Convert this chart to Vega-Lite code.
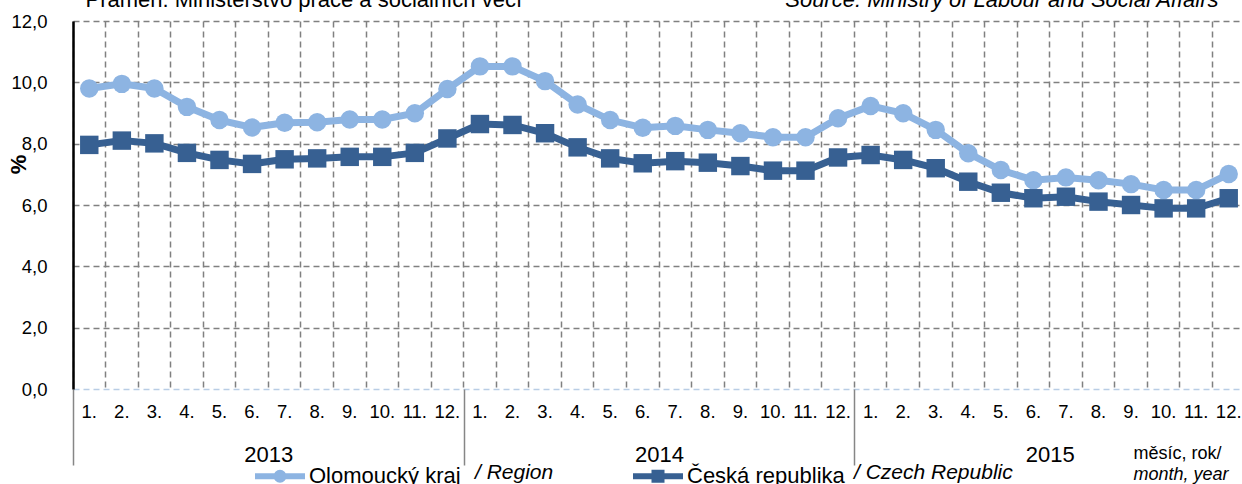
{
  "$schema": "https://vega.github.io/schema/vega-lite/v6.json",
  "width": 1172,
  "height": 368,
  "autosize": {"type": "none"},
  "padding": {"left": 73, "top": 21, "right": 0, "bottom": 95},
  "background": "#ffffff",
  "config": {
    "font": "Liberation Sans",
    "view": {"stroke": null},
    "axis": {"labelColor": "#000000", "titleColor": "#000000"},
    "legend": {"labelColor": "#000000"}
  },
  "datasets": {
    "main": [
      {"period": "2013-01", "series": "Olomoucký kraj", "series_en": "/ Region", "value": 9.8},
      {"period": "2013-02", "series": "Olomoucký kraj", "series_en": "/ Region", "value": 9.95},
      {"period": "2013-03", "series": "Olomoucký kraj", "series_en": "/ Region", "value": 9.8},
      {"period": "2013-04", "series": "Olomoucký kraj", "series_en": "/ Region", "value": 9.2},
      {"period": "2013-05", "series": "Olomoucký kraj", "series_en": "/ Region", "value": 8.77},
      {"period": "2013-06", "series": "Olomoucký kraj", "series_en": "/ Region", "value": 8.53},
      {"period": "2013-07", "series": "Olomoucký kraj", "series_en": "/ Region", "value": 8.68},
      {"period": "2013-08", "series": "Olomoucký kraj", "series_en": "/ Region", "value": 8.7},
      {"period": "2013-09", "series": "Olomoucký kraj", "series_en": "/ Region", "value": 8.79},
      {"period": "2013-10", "series": "Olomoucký kraj", "series_en": "/ Region", "value": 8.79},
      {"period": "2013-11", "series": "Olomoucký kraj", "series_en": "/ Region", "value": 8.99},
      {"period": "2013-12", "series": "Olomoucký kraj", "series_en": "/ Region", "value": 9.78},
      {"period": "2014-01", "series": "Olomoucký kraj", "series_en": "/ Region", "value": 10.52},
      {"period": "2014-02", "series": "Olomoucký kraj", "series_en": "/ Region", "value": 10.52},
      {"period": "2014-03", "series": "Olomoucký kraj", "series_en": "/ Region", "value": 10.04},
      {"period": "2014-04", "series": "Olomoucký kraj", "series_en": "/ Region", "value": 9.28},
      {"period": "2014-05", "series": "Olomoucký kraj", "series_en": "/ Region", "value": 8.77},
      {"period": "2014-06", "series": "Olomoucký kraj", "series_en": "/ Region", "value": 8.52},
      {"period": "2014-07", "series": "Olomoucký kraj", "series_en": "/ Region", "value": 8.58},
      {"period": "2014-08", "series": "Olomoucký kraj", "series_en": "/ Region", "value": 8.45},
      {"period": "2014-09", "series": "Olomoucký kraj", "series_en": "/ Region", "value": 8.34},
      {"period": "2014-10", "series": "Olomoucký kraj", "series_en": "/ Region", "value": 8.21},
      {"period": "2014-11", "series": "Olomoucký kraj", "series_en": "/ Region", "value": 8.21},
      {"period": "2014-12", "series": "Olomoucký kraj", "series_en": "/ Region", "value": 8.83},
      {"period": "2015-01", "series": "Olomoucký kraj", "series_en": "/ Region", "value": 9.23},
      {"period": "2015-02", "series": "Olomoucký kraj", "series_en": "/ Region", "value": 8.99},
      {"period": "2015-03", "series": "Olomoucký kraj", "series_en": "/ Region", "value": 8.45},
      {"period": "2015-04", "series": "Olomoucký kraj", "series_en": "/ Region", "value": 7.69},
      {"period": "2015-05", "series": "Olomoucký kraj", "series_en": "/ Region", "value": 7.14},
      {"period": "2015-06", "series": "Olomoucký kraj", "series_en": "/ Region", "value": 6.81},
      {"period": "2015-07", "series": "Olomoucký kraj", "series_en": "/ Region", "value": 6.9},
      {"period": "2015-08", "series": "Olomoucký kraj", "series_en": "/ Region", "value": 6.81},
      {"period": "2015-09", "series": "Olomoucký kraj", "series_en": "/ Region", "value": 6.68},
      {"period": "2015-10", "series": "Olomoucký kraj", "series_en": "/ Region", "value": 6.49},
      {"period": "2015-11", "series": "Olomoucký kraj", "series_en": "/ Region", "value": 6.49},
      {"period": "2015-12", "series": "Olomoucký kraj", "series_en": "/ Region", "value": 7.01},
      {"period": "2013-01", "series": "Česká republika", "series_en": "/ Czech Republic", "value": 7.96},
      {"period": "2013-02", "series": "Česká republika", "series_en": "/ Czech Republic", "value": 8.1},
      {"period": "2013-03", "series": "Česká republika", "series_en": "/ Czech Republic", "value": 8.01},
      {"period": "2013-04", "series": "Česká republika", "series_en": "/ Czech Republic", "value": 7.7},
      {"period": "2013-05", "series": "Česká republika", "series_en": "/ Czech Republic", "value": 7.47},
      {"period": "2013-06", "series": "Česká republika", "series_en": "/ Czech Republic", "value": 7.34},
      {"period": "2013-07", "series": "Česká republika", "series_en": "/ Czech Republic", "value": 7.49},
      {"period": "2013-08", "series": "Česká republika", "series_en": "/ Czech Republic", "value": 7.52},
      {"period": "2013-09", "series": "Česká republika", "series_en": "/ Czech Republic", "value": 7.57},
      {"period": "2013-10", "series": "Česká republika", "series_en": "/ Czech Republic", "value": 7.57},
      {"period": "2013-11", "series": "Česká republika", "series_en": "/ Czech Republic", "value": 7.7},
      {"period": "2013-12", "series": "Česká republika", "series_en": "/ Czech Republic", "value": 8.17},
      {"period": "2014-01", "series": "Česká republika", "series_en": "/ Czech Republic", "value": 8.64},
      {"period": "2014-02", "series": "Česká republika", "series_en": "/ Czech Republic", "value": 8.61},
      {"period": "2014-03", "series": "Česká republika", "series_en": "/ Czech Republic", "value": 8.34},
      {"period": "2014-04", "series": "Česká republika", "series_en": "/ Czech Republic", "value": 7.88},
      {"period": "2014-05", "series": "Česká republika", "series_en": "/ Czech Republic", "value": 7.52},
      {"period": "2014-06", "series": "Česká republika", "series_en": "/ Czech Republic", "value": 7.36},
      {"period": "2014-07", "series": "Česká republika", "series_en": "/ Czech Republic", "value": 7.43},
      {"period": "2014-08", "series": "Česká republika", "series_en": "/ Czech Republic", "value": 7.38},
      {"period": "2014-09", "series": "Česká republika", "series_en": "/ Czech Republic", "value": 7.27},
      {"period": "2014-10", "series": "Česká republika", "series_en": "/ Czech Republic", "value": 7.12},
      {"period": "2014-11", "series": "Česká republika", "series_en": "/ Czech Republic", "value": 7.12},
      {"period": "2014-12", "series": "Česká republika", "series_en": "/ Czech Republic", "value": 7.55},
      {"period": "2015-01", "series": "Česká republika", "series_en": "/ Czech Republic", "value": 7.63},
      {"period": "2015-02", "series": "Česká republika", "series_en": "/ Czech Republic", "value": 7.47},
      {"period": "2015-03", "series": "Česká republika", "series_en": "/ Czech Republic", "value": 7.2},
      {"period": "2015-04", "series": "Česká republika", "series_en": "/ Czech Republic", "value": 6.76},
      {"period": "2015-05", "series": "Česká republika", "series_en": "/ Czech Republic", "value": 6.4},
      {"period": "2015-06", "series": "Česká republika", "series_en": "/ Czech Republic", "value": 6.22},
      {"period": "2015-07", "series": "Česká republika", "series_en": "/ Czech Republic", "value": 6.27},
      {"period": "2015-08", "series": "Česká republika", "series_en": "/ Czech Republic", "value": 6.11},
      {"period": "2015-09", "series": "Česká republika", "series_en": "/ Czech Republic", "value": 6.0},
      {"period": "2015-10", "series": "Česká republika", "series_en": "/ Czech Republic", "value": 5.89},
      {"period": "2015-11", "series": "Česká republika", "series_en": "/ Czech Republic", "value": 5.89},
      {"period": "2015-12", "series": "Česká republika", "series_en": "/ Czech Republic", "value": 6.22}
    ],
    "years": [{"year": "2013"}, {"year": "2014"}, {"year": "2015"}]
  },
  "layer": [
    {
      "data": {"name": "main"},
      "encoding": {
        "x": {
          "field": "period", "type": "ordinal",
          "scale": {"type": "band", "paddingInner": 0, "paddingOuter": 0},
          "axis": {
            "orient": "bottom", "bandPosition": 0,
            "grid": true, "gridColor": "#808080", "gridDash": [6, 4], "gridWidth": 1.5,
            "ticks": false, "domain": false, "labelAngle": 0,
            "labelExpr": "toNumber(slice(datum.value, 5)) + '.'",
            "labelFontSize": 18.5, "labelPadding": 13, "labelBaseline": "top",
            "title": "měsíc, rok/", "titleFontSize": 18, "titleFontWeight": "normal",
            "titleX": 1060, "titleY": 69, "titleAlign": "left", "titleBaseline": "alphabetic"
          }
        },
        "y": {
          "field": "value", "type": "quantitative",
          "scale": {"domain": [0, 12], "nice": false},
          "axis": {
            "values": [0, 2, 4, 6, 8, 10, 12],
            "labelExpr": "replace(format(datum.value, '.1f'), '.', ',')",
            "labelFontSize": 18.5, "labelPadding": 26,
            "ticks": false, "domainColor": "#000000", "domainWidth": 2.5,
            "grid": true,
            "gridColor": {"condition": {"test": "datum.value === 0", "value": "#B9CDE5"}, "value": "#808080"},
            "gridDash": [6, 4], "gridWidth": 1.5,
            "title": "%", "titleFontSize": 22, "titleFontWeight": "bold",
            "titleX": -55, "titleY": 143, "titleAngle": -90, "titleAlign": "center", "titleBaseline": "middle"
          }
        }
      },
      "layer": [
        {
          "mark": {"type": "line", "strokeWidth": 7},
          "encoding": {
            "color": {
              "field": "series", "type": "nominal",
              "scale": {"domain": ["Olomoucký kraj", "Česká republika"], "range": ["#8DB4E2", "#376092"]},
              "legend": {
                "orient": "none", "legendX": 179, "legendY": 427, "direction": "horizontal", "title": null,
                "symbolType": "M-1,0H1", "symbolSize": 2500, "symbolStrokeWidth": 6,
                "labelFontSize": 22, "labelOffset": 1, "columnPadding": 160,
                "encode": {
                  "symbols": {
                    "update": {
                      "shape": {"signal": "datum.value === 'Olomoucký kraj' ? 'M-1,0H1M-0.14,0A0.14,0.14,0,1,1,0.14,0A0.14,0.14,0,1,1,-0.14,0Z' : 'M-1,0H1M-0.14,-0.14H0.14V0.14H-0.14Z'"},
                      "fill": {"signal": "datum.value === 'Olomoucký kraj' ? '#8DB4E2' : '#376092'"},
                      "stroke": {"signal": "datum.value === 'Olomoucký kraj' ? '#8DB4E2' : '#376092'"},
                      "strokeWidth": {"value": 6},
                      "opacity": {"value": 1}
                    }
                  }
                }
              }
            },
            "opacity": {
              "field": "series_en", "type": "ordinal",
              "scale": {"domain": ["/ Region", "/ Czech Republic"], "range": [1, 1]},
              "legend": {
                "orient": "none", "legendX": 381, "legendY": 441, "direction": "horizontal", "title": null,
                "symbolSize": 1, "symbolOpacity": 0, "symbolStrokeWidth": 0, "labelOffset": 0,
                "labelFontSize": 21, "labelFontStyle": "italic", "columnPadding": 279
              }
            }
          }
        },
        {
          "transform": [{"filter": "datum.series === 'Olomoucký kraj'"}],
          "mark": {"type": "point", "shape": "circle", "filled": true, "size": 340, "opacity": 1},
          "encoding": {"color": {"field": "series", "type": "nominal", "legend": null}}
        },
        {
          "transform": [{"filter": "datum.series === 'Česká republika'"}],
          "mark": {"type": "point", "shape": "square", "filled": true, "size": 340, "opacity": 1},
          "encoding": {"color": {"field": "series", "type": "nominal", "legend": null}}
        }
      ]
    },
    {
      "data": {"name": "years"},
      "mark": {"type": "rule", "opacity": 0},
      "encoding": {
        "x": {
          "field": "year", "type": "ordinal",
          "scale": {"type": "band", "paddingInner": 0, "paddingOuter": 0},
          "axis": {
            "orient": "bottom", "tickBand": "extent", "ticks": true, "tickSize": 76,
            "tickColor": "#868686", "tickWidth": 1.5, "domain": false, "grid": false,
            "labelAngle": 0, "labelFontSize": 22, "labelPadding": -4, "labelBaseline": "alphabetic",
            "title": "month, year", "titleFontSize": 18,
            "titleFontStyle": "italic", "titleFontWeight": "normal",
            "titleX": 1060, "titleY": 90, "titleAlign": "left", "titleBaseline": "alphabetic"
          }
        }
      }
    },
    {
      "data": {"name": "years"},
      "mark": {"type": "rule", "opacity": 0},
      "encoding": {
        "x": {
          "field": "year", "type": "ordinal",
          "scale": {"type": "band", "paddingInner": 0, "paddingOuter": 0},
          "axis": {
            "orient": "top", "labels": false, "ticks": false, "domain": false, "grid": false,
            "title": "Source: Ministry of Labour and Social Affairs", "titleFontSize": 22,
            "titleFontStyle": "italic", "titleFontWeight": "normal",
            "titleX": 1145, "titleY": -15, "titleAlign": "right", "titleBaseline": "alphabetic"
          }
        }
      }
    },
    {
      "data": {"name": "years"},
      "mark": {"type": "rule", "opacity": 0},
      "encoding": {
        "x": {
          "field": "year", "type": "ordinal",
          "scale": {"type": "band", "paddingInner": 0, "paddingOuter": 0},
          "axis": {
            "orient": "top", "labels": false, "ticks": false, "domain": false, "grid": false,
            "title": "Pramen: Ministerstvo práce a sociálních věcí", "titleFontSize": 22,
            "titleFontWeight": "normal",
            "titleX": 12, "titleY": -15, "titleAlign": "left", "titleBaseline": "alphabetic"
          }
        }
      }
    }
  ],
  "resolve": {"scale": {"x": "independent"}, "axis": {"x": "independent"}}
}
